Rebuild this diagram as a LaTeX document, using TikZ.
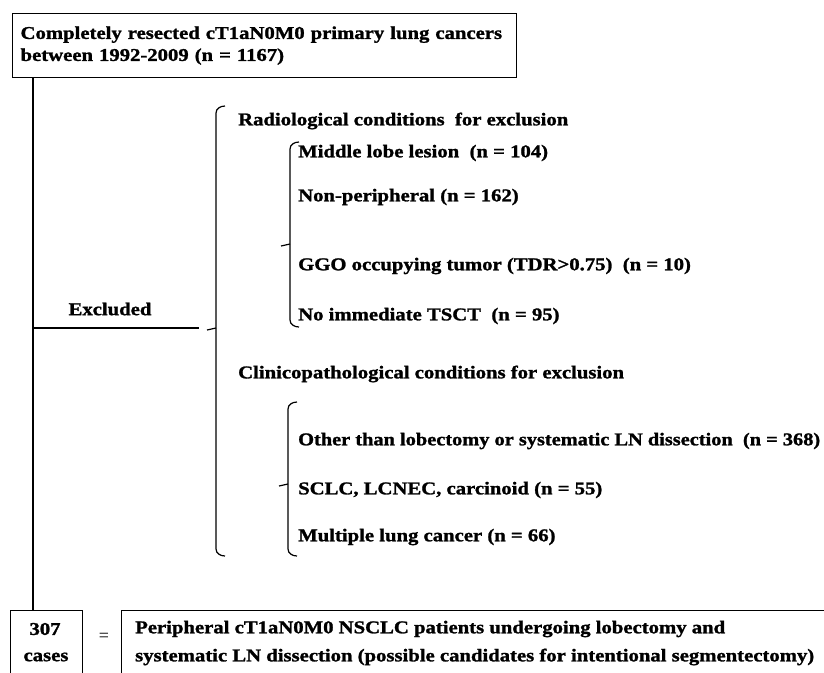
\documentclass[tikz,border=0pt]{standalone}
\usepackage{fontspec}
\setmainfont{Liberation Serif}
\newfontfamily\heavy[UprightFont=* Bold,FakeStretch=1.15,FakeBold=1.4]{Liberation Serif}
\begin{document}
\begin{tikzpicture}[x=1pt,y=-1pt,
  txtfont/.style={font=\heavy\fontsize{18}{22}\selectfont},
  lbl/.style={txtfont,anchor=west,inner sep=0pt},
  frame/.style={draw,line width=1.2pt},
  wire/.style={line width=1.2pt},
  brc/.style={line width=1.2pt}]
\useasboundingbox (0,0) rectangle (824,672);
\clip (0,0) rectangle (824,672);

% top box
\node[frame,txtfont,anchor=north west,inner xsep=8pt,inner ysep=0pt,
      minimum height=64pt,text width=488pt,align=left] (top) at (12,13)
  {Completely resected cT1aN0M0 primary lung cancers\\between 1992-2009 (n = 1167)};

% bottom boxes
\node[frame,anchor=north west,inner sep=0pt,minimum width=72pt,minimum height=90pt] (cases) at (10,610) {};
\node[txtfont,inner sep=0pt] (n307) at (45,629) {307};
\node[txtfont,inner sep=0pt] (ncases) at (46,657) {cases};
\node[font=\fontsize{18}{20}\selectfont,inner sep=0pt] (eq) at (104,637) {=};
\node[frame,anchor=north west,inner sep=0pt,minimum width=760pt,minimum height=90pt] (result) at (121,610) {};
\node[lbl] (r1) at (135,629) {Peripheral cT1aN0M0 NSCLC patients undergoing lobectomy and};
\node[lbl] (r2) at (135,657) {systematic LN dissection (possible candidates for intentional segmentectomy)};

% spine
\coordinate (spine) at (33,0);
\draw[wire] (top.south -| spine) -- (cases.north -| spine);

% excluded
\node[txtfont,inner sep=0pt] (excl) at (110,309) {Excluded};
\coordinate (exend) at (199,328);
\draw[wire] (spine |- exend) -- (exend);

% outer brace
\draw[brc] (225,106) to[out=180,in=90] (216,113) -- (216,549) to[out=-90,in=180] (225,556);
\draw[brc] (216,328) to[out=180,in=0] (207,330);

% radiological
\node[lbl] (rad) at (238,121) {Radiological conditions\ \ for exclusion};
\draw[brc] (299,142) to[out=180,in=90] (290,149) -- (290,320) to[out=-90,in=180] (299,327);
\draw[brc] (290,244) to[out=180,in=0] (281,246);
\node[lbl] (r1a) at (298,153) {Middle lobe lesion\ \ (n = 104)};
\node[lbl] (r1b) at (298,197) {Non-peripheral (n = 162)};
\node[lbl] (r1c) at (298,266) {GGO occupying tumor (TDR>0.75)\ \ (n = 10)};
\node[lbl] (r1d) at (298,316) {No immediate TSCT\ \ (n = 95)};

% clinicopathological
\node[lbl] (cli) at (238,374) {Clinicopathological conditions for exclusion};
\draw[brc] (297,402) to[out=180,in=90] (288,409) -- (288,549) to[out=-90,in=180] (297,556);
\draw[brc] (288,484) to[out=180,in=0] (279,486);
\node[lbl] (c1a) at (298,441) {\resizebox{522pt}{\height}{Other than lobectomy or systematic LN dissection\ \ (n = 368)}};
\node[lbl] (c1b) at (298,490) {SCLC, LCNEC, carcinoid (n = 55)};
\node[lbl] (c1c) at (298,537) {Multiple lung cancer (n = 66)};
\end{tikzpicture}
\end{document}
